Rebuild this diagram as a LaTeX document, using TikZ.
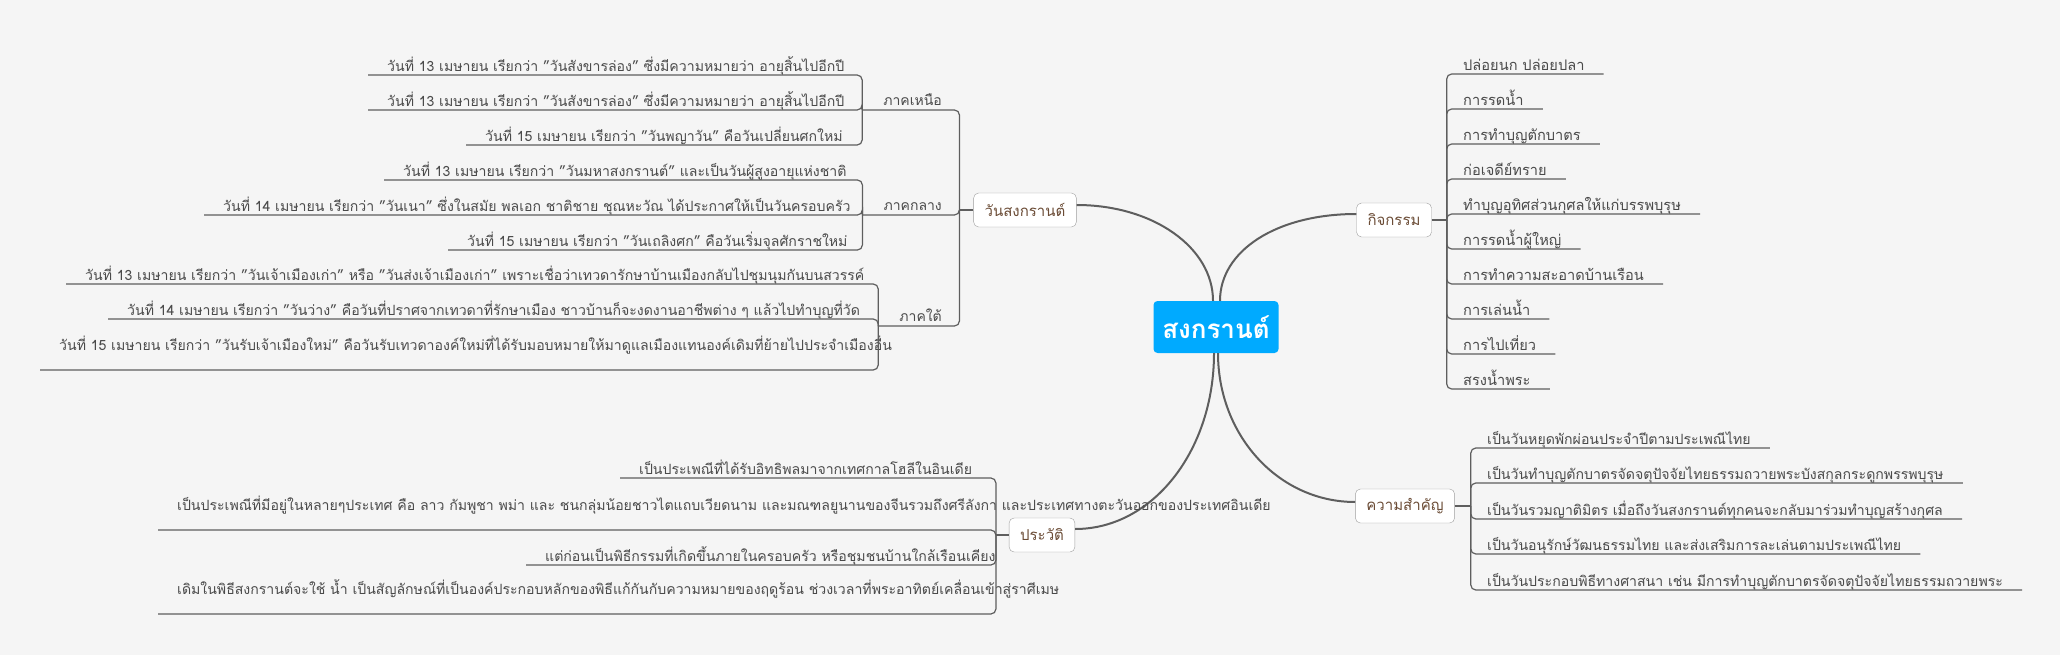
\documentclass[tikz,border=0pt]{standalone}
\usepackage{fontspec}
\setmainfont[Script=Thai]{Loma}
\usepackage{tikz}
\usetikzlibrary{calc}
\definecolor{bg}{HTML}{F5F5F5}
\definecolor{wire}{HTML}{5E5E5E}
\definecolor{leaftext}{HTML}{4A4A4A}
\definecolor{topictext}{HTML}{6B4C36}
\definecolor{rootfill}{HTML}{00AAFF}
\tikzset{
  rootnode/.style={fill=rootfill, text=white, rounded corners=4pt, minimum width=125pt, minimum height=52pt, font=\fontsize{26}{30}\selectfont\bfseries},
  topic/.style={draw=wire!60, fill=white, rounded corners=5pt, text=topictext, minimum height=34pt, inner xsep=11pt, font=\fontsize{15}{18}\selectfont},
  region/.style={anchor=south east, inner xsep=21pt, inner ysep=2pt, text depth=2pt, text=leaftext, font=\fontsize{14}{16}\selectfont},
  leafL/.style={anchor=south west, inner xsep=19pt, inner ysep=1.5pt, text depth=2pt, text=leaftext, font=\fontsize{14.1}{16}\selectfont},
  leafR/.style={leafL},
  leafA/.style={leafL, font=\fontsize{14.6}{17}\selectfont},
  tall/.style={text depth=18pt},
  branch/.style={draw=wire, line width=2pt},
  stub/.style={draw=wire, line width=2pt},
  twig/.style={draw=wire, line width=1.2pt, rounded corners=5pt}
}

\begin{document}
\begin{tikzpicture}[x=1pt,y=-1pt]
  \fill[bg] (0,0) rectangle (2060,655);
  \useasboundingbox (0,0) rectangle (2060,655);

  % main topics
  \node[rootnode] (root) at (1216,327) {สงกรานต์};
  \node[topic] (wan) at (1025,210) {วันสงกรานต์};
  \node[topic] (kij) at (1394,220) {กิจกรรม};
  \node[topic] (sam) at (1405,506) {ความสำคัญ};
  \node[topic] (hist) at (1042,535) {ประวัติ};

  \draw[branch] ([xshift=-3pt]root.north) .. controls +(0,-53) and +(77,0) .. ([yshift=5pt]wan.east);
  \draw[branch] ([xshift=4pt]root.north) .. controls +(0,-50) and +(-80,0) .. ([yshift=6pt]kij.west);
  \draw[branch] ([xshift=-2pt]root.south) .. controls +(0,97) and +(78,0) .. ([yshift=6pt]hist.east);
  \draw[branch] ([xshift=2pt]root.south) .. controls +(0,82) and +(-77,0) .. ([yshift=4pt]sam.west);

  \coordinate (hubWan) at ($(wan.west)+(-14,0)$);
  \coordinate (hubKij) at ($(kij.east)+(15,0)$);
  \coordinate (hubSam) at ($(sam.east)+(16,0)$);
  \coordinate (hubHist) at ($(hist.west)+(-13,0)$);
  \draw[stub] (wan.west) -- (hubWan);
  \draw[stub] (kij.east) -- (hubKij);
  \draw[stub] (sam.east) -- (hubSam);
  \draw[stub] (hist.west) -- (hubHist);

  % วันสงกรานต์
  \node[region] (nuea) at (963,110) {ภาคเหนือ};
  \node[region] (klang) at (963,215) {ภาคกลาง};
  \node[region] (tai) at (963,326) {ภาคใต้};
  \draw[twig] (hubWan) |- (nuea.south west);
  \draw[twig] (hubWan) |- (klang.south west);
  \draw[twig] (hubWan) |- (tai.south west);

  \node[leafL] (n1) at (368,75) {วันที่ 13 เมษายน เรียกว่า "วันสังขารล่อง" ซึ่งมีความหมายว่า อายุสิ้นไปอีกปี};
  \node[leafL] (n2) at (368,110) {วันที่ 13 เมษายน เรียกว่า "วันสังขารล่อง" ซึ่งมีความหมายว่า อายุสิ้นไปอีกปี};
  \node[leafL] (n3) at (466,145) {วันที่ 15 เมษายน เรียกว่า "วันพญาวัน" คือวันเปลี่ยนศกใหม่};
  \draw[twig] (nuea.south west) |- (n1.south west);
  \draw[twig] (nuea.south west) |- (n2.south west);
  \draw[twig] (nuea.south west) |- (n3.south west);

  \node[leafL] (k1) at (384,180) {วันที่ 13 เมษายน เรียกว่า "วันมหาสงกรานต์" และเป็นวันผู้สูงอายุแห่งชาติ};
  \node[leafL] (k2) at (204,215) {วันที่ 14 เมษายน เรียกว่า "วันเนา" ซึ่งในสมัย พลเอก ชาติชาย ชุณหะวัณ ได้ประกาศให้เป็นวันครอบครัว};
  \node[leafL] (k3) at (448,250) {วันที่ 15 เมษายน เรียกว่า "วันเถลิงศก" คือวันเริ่มจุลศักราชใหม่};
  \draw[twig] (klang.south west) |- (k1.south west);
  \draw[twig] (klang.south west) |- (k2.south west);
  \draw[twig] (klang.south west) |- (k3.south west);

  \node[leafL] (t1) at (66,284) {วันที่ 13 เมษายน เรียกว่า "วันเจ้าเมืองเก่า" หรือ "วันส่งเจ้าเมืองเก่า" เพราะเชื่อว่าเทวดารักษาบ้านเมืองกลับไปชุมนุมกันบนสวรรค์};
  \node[leafL] (t2) at (108,319) {วันที่ 14 เมษายน เรียกว่า "วันว่าง" คือวันที่ปราศจากเทวดาที่รักษาเมือง ชาวบ้านก็จะงดงานอาชีพต่าง ๆ แล้วไปทำบุญที่วัด};
  \node[leafL, tall] (t3) at (40,370) {วันที่ 15 เมษายน เรียกว่า "วันรับเจ้าเมืองใหม่" คือวันรับเทวดาองค์ใหม่ที่ได้รับมอบหมายให้มาดูแลเมืองแทนองค์เดิมที่ย้ายไปประจำเมืองอื่น};
  \draw[twig] (tai.south west) |- (t1.south west);
  \draw[twig] (tai.south west) |- (t2.south west);
  \draw[twig] (tai.south west) |- (t3.south west);

  % กิจกรรม
  \node[leafA] (a1) at (1444,74) {ปล่อยนก ปล่อยปลา};
  \node[leafA] (a2) at (1444,109) {การรดน้ำ};
  \node[leafA] (a3) at (1444,144) {การทำบุญตักบาตร};
  \node[leafA] (a4) at (1444,179) {ก่อเจดีย์ทราย};
  \node[leafA] (a5) at (1444,214) {ทำบุญอุทิศส่วนกุศลให้แก่บรรพบุรุษ};
  \node[leafA] (a6) at (1444,249) {การรดน้ำผู้ใหญ่};
  \node[leafA] (a7) at (1444,284) {การทำความสะอาดบ้านเรือน};
  \node[leafA] (a8) at (1444,319) {การเล่นน้ำ};
  \node[leafA] (a9) at (1444,354) {การไปเที่ยว};
  \node[leafA] (a10) at (1444,389) {สรงน้ำพระ};
  \draw[twig] (hubKij) |- (a1.south east);
  \draw[twig] (hubKij) |- (a2.south east);
  \draw[twig] (hubKij) |- (a3.south east);
  \draw[twig] (hubKij) |- (a4.south east);
  \draw[twig] (hubKij) |- (a5.south east);
  \draw[twig] (hubKij) |- (a6.south east);
  \draw[twig] (hubKij) |- (a7.south east);
  \draw[twig] (hubKij) |- (a8.south east);
  \draw[twig] (hubKij) |- (a9.south east);
  \draw[twig] (hubKij) |- (a10.south east);

  % ความสำคัญ
  \node[leafR] (s1) at (1468,448) {เป็นวันหยุดพักผ่อนประจำปีตามประเพณีไทย};
  \node[leafR] (s2) at (1468,483) {เป็นวันทำบุญตักบาตรจัดจตุปัจจัยไทยธรรมถวายพระบังสกุลกระดูกพรรพบุรุษ};
  \node[leafR] (s3) at (1468,519) {เป็นวันรวมญาติมิตร เมื่อถึงวันสงกรานต์ทุกคนจะกลับมาร่วมทำบุญสร้างกุศล};
  \node[leafR] (s4) at (1468,554) {เป็นวันอนุรักษ์วัฒนธรรมไทย และส่งเสริมการละเล่นตามประเพณีไทย};
  \node[leafR] (s5) at (1468,590) {เป็นวันประกอบพิธีทางศาสนา เช่น มีการทำบุญตักบาตรจัดจตุปัจจัยไทยธรรมถวายพระ};
  \draw[twig] (hubSam) |- (s1.south east);
  \draw[twig] (hubSam) |- (s2.south east);
  \draw[twig] (hubSam) |- (s3.south east);
  \draw[twig] (hubSam) |- (s4.south east);
  \draw[twig] (hubSam) |- (s5.south east);

  % ประวัติ
  \node[leafL] (h1) at (620,478) {เป็นประเพณีที่ได้รับอิทธิพลมาจากเทศกาลโฮลีในอินเดีย};
  \node[leafL, tall] (h2) at (158,530) {เป็นประเพณีที่มีอยู่ในหลายๆประเทศ คือ ลาว กัมพูชา พม่า และ ชนกลุ่มน้อยชาวไตแถบเวียดนาม และมณฑลยูนานของจีนรวมถึงศรีลังกา และประเทศทางตะวันออกของประเทศอินเดีย};
  \node[leafL] (h3) at (526,565) {แต่ก่อนเป็นพิธีกรรมที่เกิดขึ้นภายในครอบครัว หรือชุมชนบ้านใกล้เรือนเคียง};
  \node[leafL, tall] (h4) at (158,614) {เดิมในพิธีสงกรานต์จะใช้ น้ำ เป็นสัญลักษณ์ที่เป็นองค์ประกอบหลักของพิธีแก้กันกับความหมายของฤดูร้อน ช่วงเวลาที่พระอาทิตย์เคลื่อนเข้าสู่ราศีเมษ};
  \draw[twig] (hubHist) |- (h1.south west);
  \draw[twig] (hubHist) |- (h2.south west);
  \draw[twig] (hubHist) |- (h3.south west);
  \draw[twig] (hubHist) |- (h4.south west);
\end{tikzpicture}
\end{document}
